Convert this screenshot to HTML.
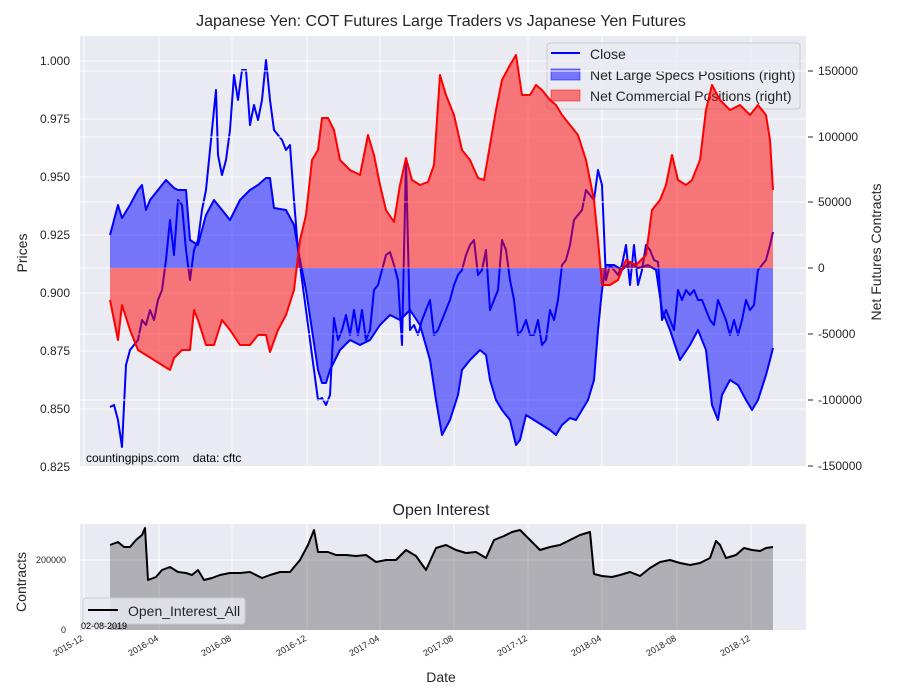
<!DOCTYPE html>
<html><head><meta charset="utf-8"><style>
body{margin:0;background:#fff;}
svg{display:block;font-family:"Liberation Sans",sans-serif;}
</style></head><body>
<svg width="900" height="700" viewBox="0 0 900 700">
<rect width="900" height="700" fill="#fff"/>
<text x="441" y="26" font-size="16" text-anchor="middle" fill="#262626">Japanese Yen: COT Futures Large Traders vs Japanese Yen Futures</text>
<rect x="80" y="36" width="726" height="430" fill="#eaeaf2"/>
<g stroke="#fff" stroke-width="1">
<line x1="80" x2="806" y1="61" y2="61"/><line x1="80" x2="806" y1="119" y2="119"/><line x1="80" x2="806" y1="177" y2="177"/><line x1="80" x2="806" y1="235" y2="235"/><line x1="80" x2="806" y1="293" y2="293"/><line x1="80" x2="806" y1="351" y2="351"/><line x1="80" x2="806" y1="409" y2="409"/>
<line x1="84" x2="84" y1="36" y2="466"/><line x1="159" x2="159" y1="36" y2="466"/><line x1="232" x2="232" y1="36" y2="466"/><line x1="307" x2="307" y1="36" y2="466"/><line x1="380" x2="380" y1="36" y2="466"/><line x1="454" x2="454" y1="36" y2="466"/><line x1="528" x2="528" y1="36" y2="466"/><line x1="602" x2="602" y1="36" y2="466"/><line x1="677" x2="677" y1="36" y2="466"/><line x1="751" x2="751" y1="36" y2="466"/>
</g>
<polyline fill="none" stroke="#0000ff" stroke-width="2" stroke-linejoin="round" points="110,407 114,405 118,420 122,447 126,365 130,350 134,345 138,340 142,320 146,325 150,310 154,320 158,300 162,290 166,260 170,220 174,255 178,200 182,205 186,250 190,280 194,250 198,240 202,210 206,190 210,150 214,110 216,90 218,155 222,175 226,160 230,130 234,75 238,100 242,70 246,70 250,125 254,105 258,120 262,100 266,60 270,100 274,130 278,135 282,140 286,150 290,145 294,200 298,250 302,280 306,310 310,340 314,370 318,400 322,398 326,405 330,395 334,318 338,340 342,330 346,315 350,335 354,310 358,335 362,310 366,340 370,330 374,290 378,285 382,270 386,255 390,252 394,265 398,280 402,345 406,160 410,330 414,325 418,335 422,320 426,310 430,300 434,335 438,330 442,320 446,310 450,300 454,285 458,275 462,270 466,255 470,245 474,240 478,275 482,270 486,250 490,310 494,300 498,290 502,240 506,250 510,280 514,300 518,335 522,330 526,320 530,335 534,335 538,320 542,345 546,340 550,310 554,320 558,300 562,265 566,260 570,245 574,220 578,215 582,210 586,190 590,195 594,200 598,170 602,185 606,280 610,265 614,270 618,275 622,265 626,245 630,285 634,245 638,285 642,270 646,245 650,250 654,260 658,262 662,320 666,310 670,320 674,330 678,290 682,300 686,290 690,295 694,290 698,300 702,300 706,310 710,320 714,325 718,300 722,310 726,320 730,335 734,320 738,335 742,320 746,300 750,310 754,305 758,270 762,265 766,260 770,245 773,232"/>
<g>
<rect x="547" y="43" width="253" height="66" rx="3" fill="#eaeaf2" fill-opacity="0.8" stroke="#cccccc"/>
<line x1="551" x2="580" y1="53" y2="53" stroke="#0000ff" stroke-width="2"/>
<rect x="551" y="69" width="29" height="11" fill="#0000ff" fill-opacity="0.5" stroke="#0000ff" stroke-opacity="0.5"/>
<rect x="551" y="90" width="29" height="11" fill="#ff0000" fill-opacity="0.5" stroke="#ff0000" stroke-opacity="0.5"/>
<text x="590" y="59" font-size="14" fill="#262626">Close</text>
<text x="590" y="80" font-size="14" fill="#262626">Net Large Specs Positions (right)</text>
<text x="590" y="101" font-size="14" fill="#262626">Net Commercial Positions (right)</text>
</g>
<g stroke="#fff" stroke-width="1">
<line x1="80" x2="806" y1="71" y2="71"/><line x1="80" x2="806" y1="137" y2="137"/><line x1="80" x2="806" y1="202" y2="202"/><line x1="80" x2="806" y1="268" y2="268"/><line x1="80" x2="806" y1="334" y2="334"/><line x1="80" x2="806" y1="400" y2="400"/>
</g>
<polygon fill="#0000ff" fill-opacity="0.5" points="110,268 110,235 118,205 122,218 130,205 138,190 142,185 146,210 150,200 158,190 166,180 174,188 178,190 186,190 190,240 198,245 202,230 206,215 214,200 222,210 230,220 240,200 250,190 258,185 266,178 270,178 274,208 286,210 294,225 300,260 306,290 312,330 318,370 322,383 326,383 330,370 340,350 350,340 360,345 370,340 380,325 390,315 400,320 410,310 420,325 430,360 436,400 442,435 450,420 458,395 462,370 470,360 480,350 486,355 490,380 496,400 502,410 510,420 516,445 520,440 526,415 534,420 542,425 550,430 556,435 562,425 570,418 576,420 582,410 588,400 594,380 598,330 602,290 606,265 614,265 622,270 630,262 638,268 648,265 656,270 662,310 670,330 680,360 690,345 698,330 706,350 712,405 718,420 722,395 730,380 738,385 746,400 752,410 758,400 766,375 770,360 773,348 773,268"/>
<polyline fill="none" stroke="#0000ff" stroke-width="2" stroke-linejoin="round" points="110,235 118,205 122,218 130,205 138,190 142,185 146,210 150,200 158,190 166,180 174,188 178,190 186,190 190,240 198,245 202,230 206,215 214,200 222,210 230,220 240,200 250,190 258,185 266,178 270,178 274,208 286,210 294,225 300,260 306,290 312,330 318,370 322,383 326,383 330,370 340,350 350,340 360,345 370,340 380,325 390,315 400,320 410,310 420,325 430,360 436,400 442,435 450,420 458,395 462,370 470,360 480,350 486,355 490,380 496,400 502,410 510,420 516,445 520,440 526,415 534,420 542,425 550,430 556,435 562,425 570,418 576,420 582,410 588,400 594,380 598,330 602,290 606,265 614,265 622,270 630,262 638,268 648,265 656,270 662,310 670,330 680,360 690,345 698,330 706,350 712,405 718,420 722,395 730,380 738,385 746,400 752,410 758,400 766,375 770,360 773,348"/>
<polygon fill="#ff0000" fill-opacity="0.5" points="110,268 110,300 118,340 122,305 130,330 138,350 146,355 154,360 162,365 170,370 174,358 182,350 190,350 194,310 198,320 206,345 214,345 222,320 230,330 240,345 250,345 258,335 266,335 270,352 278,330 286,315 294,290 300,240 306,215 312,160 318,150 322,118 328,118 334,130 340,160 350,170 360,175 368,135 374,155 380,185 386,210 394,222 400,185 406,158 412,180 420,185 428,182 434,165 440,75 446,95 454,115 462,150 470,160 478,178 484,180 490,145 496,110 502,80 510,65 516,55 522,95 530,95 536,85 542,90 550,100 556,105 562,115 570,125 578,135 586,160 594,200 598,240 602,285 610,285 618,280 626,260 636,265 646,255 652,210 660,200 666,185 672,155 678,180 686,185 692,180 700,160 706,110 712,85 720,100 730,110 740,105 750,115 758,105 766,115 770,140 773,190 773,268"/>
<polyline fill="none" stroke="#ff0000" stroke-width="2" stroke-linejoin="round" points="110,300 118,340 122,305 130,330 138,350 146,355 154,360 162,365 170,370 174,358 182,350 190,350 194,310 198,320 206,345 214,345 222,320 230,330 240,345 250,345 258,335 266,335 270,352 278,330 286,315 294,290 300,240 306,215 312,160 318,150 322,118 328,118 334,130 340,160 350,170 360,175 368,135 374,155 380,185 386,210 394,222 400,185 406,158 412,180 420,185 428,182 434,165 440,75 446,95 454,115 462,150 470,160 478,178 484,180 490,145 496,110 502,80 510,65 516,55 522,95 530,95 536,85 542,90 550,100 556,105 562,115 570,125 578,135 586,160 594,200 598,240 602,285 610,285 618,280 626,260 636,265 646,255 652,210 660,200 666,185 672,155 678,180 686,185 692,180 700,160 706,110 712,85 720,100 730,110 740,105 750,115 758,105 766,115 770,140 773,190"/>
<text x="86" y="462" font-size="12" fill="#000">countingpips.com&#160;&#160;&#160;&#160;data: cftc</text>
<g font-size="12" fill="#262626" text-anchor="end">
<text x="70" y="65">1.000</text><text x="70" y="123">0.975</text><text x="70" y="181">0.950</text><text x="70" y="239">0.925</text><text x="70" y="297">0.900</text><text x="70" y="355">0.875</text><text x="70" y="413">0.850</text><text x="70" y="471">0.825</text>
</g>
<g font-size="12" fill="#262626">
<text x="818" y="75">150000</text><text x="818" y="141">100000</text><text x="818" y="206">50000</text><text x="818" y="272">0</text><text x="818" y="338">-50000</text><text x="818" y="404">-100000</text><text x="818" y="470">-150000</text>
</g>
<g stroke="#262626"><line x1="808" x2="813" y1="71" y2="71"/><line x1="808" x2="813" y1="137" y2="137"/><line x1="808" x2="813" y1="202" y2="202"/><line x1="808" x2="813" y1="268" y2="268"/><line x1="808" x2="813" y1="334" y2="334"/><line x1="808" x2="813" y1="400" y2="400"/><line x1="808" x2="813" y1="466" y2="466"/></g>
<text transform="translate(27,253) rotate(-90)" font-size="14" text-anchor="middle" fill="#262626">Prices</text>
<text transform="translate(881,252) rotate(-90)" font-size="14" text-anchor="middle" fill="#262626">Net Futures Contracts</text>

<text x="441" y="515" font-size="16" text-anchor="middle" fill="#262626">Open Interest</text>
<rect x="80" y="524" width="726" height="106" fill="#eaeaf2"/>
<g stroke="#fff"><line x1="80" x2="806" y1="560" y2="560"/>
<line x1="84" x2="84" y1="524" y2="630"/><line x1="159" x2="159" y1="524" y2="630"/><line x1="232" x2="232" y1="524" y2="630"/><line x1="307" x2="307" y1="524" y2="630"/><line x1="380" x2="380" y1="524" y2="630"/><line x1="454" x2="454" y1="524" y2="630"/><line x1="528" x2="528" y1="524" y2="630"/><line x1="602" x2="602" y1="524" y2="630"/><line x1="677" x2="677" y1="524" y2="630"/><line x1="751" x2="751" y1="524" y2="630"/></g>
<polygon fill="#000" fill-opacity="0.25" points="110,630 110,545 118,542 124,547 130,547 136,540 142,535 145,528 148,580 156,577 162,570 170,567 178,572 186,573 192,575 198,570 204,580 212,578 220,575 230,573 240,573 250,572 262,578 270,575 280,572 290,572 300,560 308,545 314,530 318,552 328,552 336,555 346,555 356,556 366,555 376,562 386,560 396,560 406,550 416,556 426,570 436,548 446,545 456,550 466,553 476,552 486,558 494,540 504,536 512,532 520,530 530,540 540,550 550,547 560,545 570,540 580,535 590,532 594,574 602,576 612,577 620,575 630,572 640,576 650,568 660,562 670,560 680,563 690,565 700,563 710,558 716,541 720,545 726,558 736,555 744,548 752,550 760,551 766,548 773,547 773,630"/>
<polyline fill="none" stroke="#000" stroke-width="2" stroke-linejoin="round" points="110,545 118,542 124,547 130,547 136,540 142,535 145,528 148,580 156,577 162,570 170,567 178,572 186,573 192,575 198,570 204,580 212,578 220,575 230,573 240,573 250,572 262,578 270,575 280,572 290,572 300,560 308,545 314,530 318,552 328,552 336,555 346,555 356,556 366,555 376,562 386,560 396,560 406,550 416,556 426,570 436,548 446,545 456,550 466,553 476,552 486,558 494,540 504,536 512,532 520,530 530,540 540,550 550,547 560,545 570,540 580,535 590,532 594,574 602,576 612,577 620,575 630,572 640,576 650,568 660,562 670,560 680,563 690,565 700,563 710,558 716,541 720,545 726,558 736,555 744,548 752,550 760,551 766,548 773,547"/>
<rect x="83" y="598" width="162" height="26" rx="3" fill="#eaeaf2" fill-opacity="0.8" stroke="#cccccc"/>
<line x1="88" x2="118" y1="610" y2="610" stroke="#000" stroke-width="2"/>
<text x="128" y="616" font-size="14" fill="#262626">Open_Interest_All</text>
<text x="81" y="629" font-size="9" fill="#000">02-08-2019</text>
<g font-size="9" fill="#262626" text-anchor="end">
<text x="66" y="563">200000</text><text x="66" y="633">0</text>
</g>
<text transform="translate(26,582) rotate(-90)" font-size="14" text-anchor="middle" fill="#262626">Contracts</text>
<g font-size="9" fill="#262626" text-anchor="end">
<text transform="translate(84,640) rotate(-30)">2015-12</text>
<text transform="translate(159,640) rotate(-30)">2016-04</text>
<text transform="translate(232,640) rotate(-30)">2016-08</text>
<text transform="translate(307,640) rotate(-30)">2016-12</text>
<text transform="translate(380,640) rotate(-30)">2017-04</text>
<text transform="translate(454,640) rotate(-30)">2017-08</text>
<text transform="translate(528,640) rotate(-30)">2017-12</text>
<text transform="translate(602,640) rotate(-30)">2018-04</text>
<text transform="translate(677,640) rotate(-30)">2018-08</text>
<text transform="translate(751,640) rotate(-30)">2018-12</text>
</g>
<text x="441" y="682" font-size="14" text-anchor="middle" fill="#262626">Date</text>
</svg>
</body></html>
